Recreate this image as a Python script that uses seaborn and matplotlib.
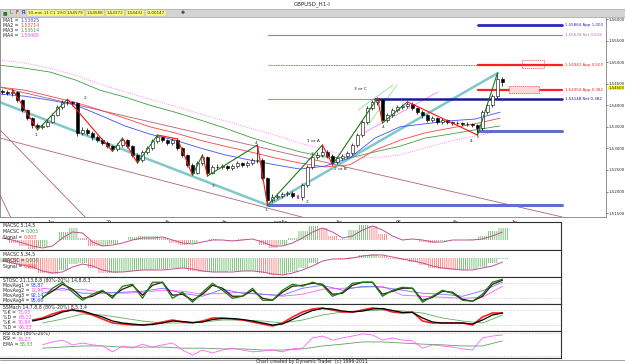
import numpy as np
import matplotlib
matplotlib.use("Agg")
import matplotlib.pyplot as plt
from matplotlib.patches import Rectangle
from matplotlib.text import Annotation
import seaborn as sns

W, H = 625, 364

# ---- price bars (2 hour steps) ----
first_open = 1.5432
closes = [1.5431, 1.5428, 1.5431, 1.5412, 1.5389, 1.5370, 1.5354, 1.5350, 1.5352, 1.5361,
          1.5377, 1.5396, 1.5407, 1.5407, 1.5405, 1.5336, 1.5343, 1.5336, 1.5326, 1.5319,
          1.5312, 1.5305, 1.5298, 1.5308, 1.5319, 1.5305, 1.5285, 1.5273, 1.5292, 1.5301,
          1.5317, 1.5326, 1.5319, 1.5312, 1.5319, 1.5301, 1.5285, 1.5262, 1.5243, 1.5266,
          1.5280, 1.5243, 1.5257, 1.5257, 1.5259, 1.5255, 1.5259, 1.5266, 1.5262, 1.5266,
          1.5273, 1.5273, 1.5231, 1.5180, 1.5187, 1.5190, 1.5194, 1.5197, 1.5190, 1.5187,
          1.5215, 1.5257, 1.5280, 1.5285, 1.5292, 1.5282, 1.5269, 1.5278, 1.5282, 1.5289,
          1.5308, 1.5331, 1.5361, 1.5394, 1.5407, 1.5412, 1.5366, 1.5377, 1.5389, 1.5396,
          1.5398, 1.5403, 1.5394, 1.5384, 1.5377, 1.5366, 1.5370, 1.5361, 1.5366, 1.5361,
          1.5359, 1.5359, 1.5357, 1.5357, 1.5354, 1.5347, 1.5384, 1.5400, 1.5421, 1.5462,
          1.5455]
highs = [1.5437, 1.5436, 1.5437, 1.5434, 1.5415, 1.5392, 1.5373, 1.5358, 1.5357, 1.5365,
         1.5381, 1.5400, 1.5412, 1.5414, 1.5411, 1.5408, 1.5350, 1.5347, 1.5340, 1.5330,
         1.5323, 1.5316, 1.5309, 1.5313, 1.5324, 1.5322, 1.5308, 1.5289, 1.5296, 1.5306,
         1.5321, 1.5331, 1.5329, 1.5322, 1.5323, 1.5322, 1.5304, 1.5288, 1.5266, 1.5270,
         1.5285, 1.5283, 1.5262, 1.5263, 1.5264, 1.5262, 1.5263, 1.5270, 1.5269, 1.5271,
         1.5278, 1.5308, 1.5277, 1.5234, 1.5194, 1.5196, 1.5199, 1.5202, 1.5201, 1.5194,
         1.5219, 1.5262, 1.5285, 1.5292, 1.5308, 1.5297, 1.5286, 1.5283, 1.5287, 1.5294,
         1.5313, 1.5336, 1.5366, 1.5399, 1.5412, 1.5417, 1.5415, 1.5382, 1.5393, 1.5400,
         1.5403, 1.5408, 1.5407, 1.5397, 1.5388, 1.5380, 1.5376, 1.5373, 1.5371, 1.5369,
         1.5364, 1.5363, 1.5362, 1.5361, 1.5360, 1.5357, 1.5389, 1.5406, 1.5427, 1.5475,
         1.5466]
lows = [1.5426, 1.5424, 1.5422, 1.5408, 1.5385, 1.5365, 1.5348, 1.5343, 1.5345, 1.5349,
        1.5358, 1.5374, 1.5392, 1.5401, 1.5398, 1.5328, 1.5331, 1.5330, 1.5320, 1.5314,
        1.5307, 1.5300, 1.5293, 1.5294, 1.5304, 1.5300, 1.5279, 1.5266, 1.5269, 1.5288,
        1.5297, 1.5313, 1.5314, 1.5307, 1.5308, 1.5296, 1.5280, 1.5257, 1.5238, 1.5240,
        1.5262, 1.5236, 1.5240, 1.5252, 1.5253, 1.5250, 1.5251, 1.5255, 1.5257, 1.5258,
        1.5262, 1.5266, 1.5226, 1.5168, 1.5175, 1.5182, 1.5186, 1.5189, 1.5186, 1.5182,
        1.5180, 1.5211, 1.5252, 1.5275, 1.5281, 1.5277, 1.5262, 1.5264, 1.5273, 1.5278,
        1.5285, 1.5304, 1.5327, 1.5357, 1.5389, 1.5401, 1.5359, 1.5361, 1.5373, 1.5385,
        1.5391, 1.5394, 1.5389, 1.5379, 1.5371, 1.5361, 1.5362, 1.5356, 1.5357, 1.5356,
        1.5354, 1.5355, 1.5353, 1.5352, 1.5349, 1.5331, 1.5343, 1.5380, 1.5396, 1.5417,
        1.5445]
marked_bar = 59
last_price_label = "1,54603"
last_price_pos = 1.5440

# ---- moving averages, read every 5 bars ----
ma1 = [1.5426, 1.5421, 1.5412, 1.5401, 1.5377, 1.5352, 1.5333, 1.5319, 1.5301, 1.5285, 1.5273,
       1.5262, 1.5252, 1.5259, 1.5278, 1.5324, 1.5350, 1.5357, 1.5364, 1.5368, 1.5384]
ma2 = [1.5442, 1.5435, 1.5421, 1.5407, 1.5389, 1.5370, 1.5350, 1.5336, 1.5319, 1.5305, 1.5292,
       1.5278, 1.5266, 1.5257, 1.5262, 1.5296, 1.5319, 1.5336, 1.5347, 1.5357, 1.5370]
ma3 = [1.5493, 1.5486, 1.5477, 1.5459, 1.5435, 1.5419, 1.5400, 1.5384, 1.5366, 1.5347, 1.5326,
       1.5308, 1.5292, 1.5280, 1.5278, 1.5292, 1.5305, 1.5324, 1.5333, 1.5343, 1.5352]
ma4 = [1.5505, 1.5498, 1.5486, 1.5470, 1.5449, 1.5431, 1.5414, 1.5398, 1.5380, 1.5364, 1.5347,
       1.5331, 1.5312, 1.5296, 1.5282, 1.5278, 1.5285, 1.5301, 1.5317, 1.5329, 1.5340]
ma_labels = ["MA1 =", "MA2 =", "MA3 =", "MA4 ="]
ma_values = ["1,53825", "1,53714", "1,53514", "1,53405"]
ma_colors = ["#4050ff", "#ff4040", "#40a040", "#ff40ff"]

# ---- swing points (bar, price) ----
swings = [(2, 1.5437), (7, 1.5343), (13, 1.5414), (22, 1.5293), (24, 1.5324), (27, 1.5266),
          (31, 1.5331), (35, 1.5322), (38, 1.5238), (40, 1.5285), (41, 1.5236), (51, 1.5308),
          (53, 1.5168), (64, 1.5308), (66, 1.5262), (75, 1.5417), (76, 1.5359), (81, 1.5408),
          (95, 1.5331), (99, 1.5475)]

# ---- drawn trend lines (bar, price) -> (bar, price) ----
channel_lines = [((-0.5, 1.5442), (111.9, 1.5141)), ((-0.5, 1.5324), (62.1, 1.5134)),
                 ((-0.5, 1.5343), (17.1, 1.5134)), ((-0.5, 1.5192), (1.9, 1.5134))]
teal_lines = [((-0.5, 1.5407), (53.1, 1.5168)), ((53.1, 1.5168), (99.1, 1.5475))]
green_lines = [((71.1, 1.5389), (78.1, 1.5447)), ((73.1, 1.5354), (78.9, 1.5447))]
pink_lines = [((71.5, 1.5331), (87.1, 1.5431))]

# ---- Fibonacci levels: price, start bar, colour, width, label ----
fib_levels = [(1.55864, 95.1, "#2828b8", 2.0, "1,55864 App 1,000"),
              (1.55634, 53.1, "#b070b8", 0.8, "1,55634 Ret 0,618"),
              (1.54942, 95.1, "#ff2020", 1.6, "1,54942 App 0,500"),
              (1.54354, 95.1, "#ff2020", 1.6, "1,54354 App 0,382"),
              (1.54148, 74.5, "#1a1a90", 1.8, "1,54148 Ret 0,382")]
support_levels = [(1.5340, 95.1), (1.5168, 53.1)]
boxes = [(103.9, 1.5487, 4.4, 0.0018, "none"), (101.3, 1.5428, 6.0, 0.0016, "#ffd8d8")]

wave_labels = [(6.7, 1.5331, "1"), (16.5, 1.5416, "2"), (42.1, 1.5213, "3"), (50.7, 1.5312, "4"),
               (52.7, 1.5158, "1"), (60.9, 1.5176, "2"), (61.9, 1.5287, "3"), (62.1, 1.5318, "1 or A"),
               (67.5, 1.5252, "2 or B"), (71.5, 1.5437, "3 or C"), (76.1, 1.5350, "4"),
               (93.7, 1.5318, "4"), (95.1, 1.5326, "c")]

day_ticks = [9.7, 21.3, 32.9, 44.5, 55.7, 67.3, 79.3, 90.7, 102.3]
day_labels = ["1w", "20", "3s", "4p", "sun5p", "3w", "9S", "8c", "1p"]
price_ticks = [1.515, 1.520, 1.525, 1.530, 1.535, 1.540, 1.545, 1.550, 1.555, 1.560]

# ---- indicator panels, every 2 bars ----
macd1 = [0, -0.00075, -0.0015, -0.00225, -0.00175, 0, 0.002, 0.003, 0.0005, -0.0015,
         -0.0015, -0.001, 0, 0.00075, 0.001, 0.001, 0.0005, -0.00075, -0.00125, -0.00075,
         0, 0.00025, 0, -0.00025, 0.00025, 0, -0.00125, -0.002, -0.00125, 0.0005,
         0.00225, 0.0035, 0.003, 0.001, 0.00025, 0.0025, 0.00375, 0.0035, 0.0015, 0,
         0, 0, -0.0005, -0.00075, -0.00025, 0, 0, 0.00025, 0.001, 0.00225, 0.003]
signal1 = [0.0005, 0, -0.00075, -0.0015, -0.002, -0.0015, 0.0005, 0.002, 0.00175, -0.0005,
           -0.0015, -0.00125, -0.00075, 0, 0.0005, 0.0005, 0.00075, 0, -0.00075, -0.001,
           -0.0005, 0, 0, -0.00025, 0, 0.00025, -0.0005, -0.0015, -0.0015, -0.00075,
           0.0005, 0.002, 0.003, 0.002, 0.0005, 0.001, 0.0025, 0.0035, 0.0025, 0.001,
           0, 0.00025, 0, -0.0005, -0.0005, 0, 0, 0, 0.00025, 0.001, 0.002]
macd2 = [-0.0016, -0.0024, -0.0032, -0.0044, -0.006, -0.0064, -0.0048, -0.0024, -0.002, -0.004,
         -0.006, -0.006, -0.0056, -0.0052, -0.0048, -0.0048, -0.0044, -0.004, -0.004, -0.0052,
         -0.0056, -0.0056, -0.0056, -0.0052, -0.0052, -0.0052, -0.006, -0.0068, -0.0068, -0.0056,
         -0.004, -0.002, 0, 0, -0.0004, 0.0004, 0.0012, 0.0016, 0.0008, -0.0004,
         -0.0008, -0.0016, -0.0028, -0.004, -0.0044, -0.0048, -0.0048, -0.0044, -0.0036, -0.002,
         -0.0004]
signal2 = [-0.0012, -0.002, -0.0028, -0.0036, -0.0052, -0.006, -0.0056, -0.0036, -0.0024, -0.0032,
           -0.0048, -0.0056, -0.0056, -0.0052, -0.0048, -0.0048, -0.0048, -0.0044, -0.004, -0.0044,
           -0.0052, -0.0056, -0.0056, -0.0056, -0.0052, -0.0052, -0.0056, -0.0064, -0.0068, -0.006,
           -0.0048, -0.0032, -0.0012, -0.0004, -0.0004, 0, 0.0008, 0.0012, 0.0012, 0.0004,
           -0.0004, -0.0012, -0.002, -0.0032, -0.004, -0.0044, -0.0048, -0.0048, -0.004, -0.0032,
           -0.0016]

# from bar 8, every 2 bars
sto_fast = [20, 60, 84, 44, 12, 36, 52, 20, 68, 76, 20, 84, 84, 20, 44, 4, 44, 80, 52, 20,
            28, 60, 12, 12, 52, 76, 68, 84, 72, 28, 44, 80, 84, 84, 28, 52, 64, 60, 4, 28,
            52, 40, 12, 8, 36, 84, 96]
sto_black = [24, 48, 76, 56, 20, 28, 48, 28, 56, 72, 32, 72, 84, 32, 36, 12, 36, 72, 60, 28,
             28, 52, 20, 12, 44, 68, 72, 80, 76, 36, 40, 72, 84, 84, 36, 48, 60, 60, 12, 24,
             48, 44, 16, 8, 28, 76, 92]
# from bar 8, every 4 bars
sto_blue = [40, 60, 40, 40, 44, 48, 60, 40, 28, 56, 40, 36, 32, 60, 72, 52, 68, 64, 52, 40,
            36, 28, 50, 84]
sto_pink = [60, 52, 56, 44, 40, 44, 52, 48, 36, 40, 44, 36, 28, 36, 56, 60, 64, 68, 32, 28,
            24, 20, 24, 68]
# from bar 6, every 2 bars
ss_red = [40, 48, 64, 76, 80, 72, 60, 44, 28, 24, 20, 20, 24, 32, 40, 32, 28, 36, 48, 48,
          44, 40, 32, 24, 16, 28, 52, 72, 84, 88, 80, 72, 72, 80, 88, 84, 72, 68, 72, 36,
          28, 28, 28, 28, 20, 52, 68, 68]
ss_black = [36, 44, 56, 72, 80, 76, 64, 52, 36, 28, 24, 20, 22, 28, 36, 34, 30, 32, 42, 46,
            46, 42, 36, 28, 20, 24, 42, 62, 78, 86, 84, 76, 72, 76, 84, 86, 78, 70, 70, 48,
            32, 28, 28, 28, 24, 40, 60, 68]
# from bar 8, every 4 bars
ss_green = [28, 44, 64, 60, 48, 36, 28, 28, 32, 40, 40, 36, 28, 40, 60, 72, 76, 80, 76, 68,
            48, 36, 28, 60]
# from bar 8, every 2 bars
rsi = [49, 57, 62, 49, 54, 49, 46, 30, 46, 40, 51, 43, 49, 54, 35, 21, 35, 27, 35, 40,
       35, 30, 32, 35, 30, 38, 40, 68, 73, 62, 68, 73, 79, 76, 62, 68, 62, 60, 40, 49,
       46, 43, 38, 35, 68, 73, 76]
# from bar 8, every 4 bars
rsi_ema = [40, 43, 46, 46, 43, 43, 43, 40, 40, 38, 38, 35, 35, 38, 46, 51, 57, 57, 54, 51,
           49, 46, 46, 60]

panel_text = [
    (225.5, "MACSC 5,14,5", None, None),
    (231.5, "MACSC =", "0,003", "#40a040"),
    (237.5, "Signal =", "0,003", "#ff4040"),
    (254.5, "MACSC 5,34,5", None, None),
    (260.5, "MACSC =", "0,008", "#40a040"),
    (266.5, "Signal =", "0,004", "#ff4040"),
    (280.5, "STOSC 21,13,8,8 (80%-20%) 14,8,8,3", None, None),
    (285.5, "MovAvg1 =", "93,87", "#2040ff"),
    (290.5, "MovAvg2 =", "72,96", "#ff40ff"),
    (295.5, "MovAvg3 =", "92,14", "#2040ff"),
    (300.5, "MovAvg4 =", "95,66", "#2040ff"),
    (307.5, "SSMach 14,7,8,8 (80%-20%) 8,5,3,4", None, None),
    (312.5, "%K =", "73,03", "#ff40ff"),
    (317.5, "%D =", "68,12", "#ff40ff"),
    (322.5, "%K =", "70,94", "#ff40ff"),
    (327.5, "%D =", "66,03", "#ff40ff"),
    (333.5, "RSI 8,80 (80%-20%)", None, None),
    (339.0, "RSI =", "76,27", "#ff40ff"),
    (344.0, "EMA =", "58,33", "#40a040"),
]

sns.set_style("white")
plt.rcParams["font.family"] = ["DejaVu Sans"]
plt.rcParams["hatch.linewidth"] = 0.5

fig = plt.figure(figsize=(W / 100, H / 100), dpi=100)


def box(l, t, r, b):
    return fig.add_axes([l / W, 1 - b / H, (r - l) / W, (b - t) / H])


def ftext(x, y, s, **kw):
    kw.setdefault("fontsize", 3.4)
    kw.setdefault("va", "center")
    return fig.text(x / W, 1 - y / H, s, **kw)


def after(label, s, color, size=3.4):
    # value text placed right after its label
    ann = Annotation(s, xy=(1, 0.5), xycoords=label, xytext=(1.2, 0), textcoords="offset points",
                     va="center", ha="left", color=color, fontsize=size)
    fig.add_artist(ann)


# window chrome
fig.patches.append(Rectangle((0, 1 - 17 / H), 1, 8 / H, transform=fig.transFigure,
                             facecolor="#d4d4d4", edgecolor="#a0a0a0", lw=0.5))
ftext(312, 4.5, "GBPUSD_H1-I", ha="center", fontsize=4)
ftext(3, 13, "■", color="#208020", fontsize=3.5)
ftext(9, 13, "L", color="#806000", fontsize=3.8)
ftext(15, 13, "F", color="#a00000", fontsize=3.8)
ftext(21, 13, "R", color="#0000a0", fontsize=3.8)
toolbar = ["10-mei-11 C1 19:00", "1,54579", "1,54588", "1,54372", "1,54432", "-0,00147"]
tx = [28, 67, 87, 107, 127, 147]
for xp, s in zip(tx, toolbar):
    ftext(xp, 13, s, fontsize=3.0, bbox=dict(boxstyle="square,pad=0.15", fc="#ffff80", ec="#c0c0c0", lw=0.3))
ftext(181, 13, "✚", fontsize=3.5)

# ---- main price panel ----
ax = box(0, 18, 606, 217)
x = np.arange(len(closes))
c = np.array(closes)
o = np.array([first_open] + closes[:-1])
up = c >= o
ax.vlines(x, lows, highs, color="black", lw=0.5, zorder=3)
body = np.maximum(np.abs(c - o), 0.00005)
ax.bar(x[up], body[up], bottom=o[up], width=0.65, color="white", edgecolor="black", lw=0.4, zorder=4)
ax.bar(x[~up], body[~up], bottom=c[~up], width=0.65, color="black", edgecolor="black", lw=0.4, zorder=4)
ax.bar([marked_bar], [0.0012], bottom=[lows[marked_bar]], width=0.65, color="#c000c0", zorder=5)

ma_x = np.arange(-0.5, 101, 5)
for vals, col, ls in [(ma4, "#ff60ff", ":"), (ma3, "#40a040", "-"), (ma2, "#ff4040", "-"), (ma1, "#4050ff", "-")]:
    sns.lineplot(x=ma_x, y=vals, ax=ax, color=col, lw=0.6, linestyle=ls, zorder=2)

for (x0, y0), (x1, y1) in channel_lines:
    ax.plot([x0, x1], [y0, y1], color="#b06080", lw=0.6, zorder=1)
for (x0, y0), (x1, y1) in teal_lines:
    ax.plot([x0, x1], [y0, y1], color="#80c8c8", lw=1.8, zorder=1)
for (x0, y0), (x1, y1) in green_lines:
    ax.plot([x0, x1], [y0, y1], color="#90e090", lw=0.6, zorder=1)
for (x0, y0), (x1, y1) in pink_lines:
    ax.plot([x0, x1], [y0, y1], color="#ff80ff", lw=0.6, zorder=1)

for (x0, y0), (x1, y1) in zip(swings[:-1], swings[1:]):
    col = "#1a7a1a" if y1 > y0 else "#ff1010"
    ax.plot([x0, x1], [y0, y1], color=col, lw=0.8, zorder=6)

line_end = 111.9
ax.plot([53.1, 95.1], [1.54942, 1.54942], color="#ff4040", lw=0.6, linestyle=(0, (2, 1)), zorder=1)
ax.plot([53.1, 74.5], [1.54148, 1.54148], color="#c080c0", lw=0.8, zorder=1)
for price, start, col, lw, label in fib_levels:
    ax.plot([start, line_end], [price, price], color=col, lw=lw, zorder=2)
    ax.text(line_end + 0.6, price, label, color=col, fontsize=2.9, va="center")
for price, start in support_levels:
    ax.plot([start, line_end], [price, price], color="#6070d0", lw=2.2, zorder=2)
for bx, by, bw, bh, fc in boxes:
    ax.add_patch(Rectangle((bx, by), bw, bh, facecolor=fc, edgecolor="#ff4040",
                           lw=0.5, linestyle=(0, (2, 1)), zorder=2))
for wx, wy, s in wave_labels:
    ax.text(wx, wy, s, fontsize=3.2, ha="center", va="center", zorder=7)

ax.set_xlim(-0.5, 120.7)
ax.set_ylim(1.51409, 1.56024)
ax.set_xticks(day_ticks)
ax.set_xticklabels(day_labels, fontsize=3.4)
ax.yaxis.tick_right()
ax.set_yticks(price_ticks)
ax.set_yticklabels([f"{p:.5f}".replace(".", ",") for p in price_ticks], fontsize=2.9)
ax.tick_params(axis="both", length=1.5, width=0.4, pad=0.6)
ax.set_xlabel("")
ax.set_ylabel("")
ax.spines["top"].set_visible(False)
for side in ["left", "right", "bottom"]:
    ax.spines[side].set_color("#808080")
    ax.spines[side].set_linewidth(0.6)
ax.annotate(last_price_label, xy=(1, last_price_pos), xycoords=("axes fraction", "data"),
            xytext=(1.5, 0), textcoords="offset points", fontsize=2.8, va="center",
            bbox=dict(boxstyle="square,pad=0.1", fc="#ffff00", ec="none"), annotation_clip=False)

for i, (lab, val, col) in enumerate(zip(ma_labels, ma_values, ma_colors)):
    t = ftext(3, 20.5 + 5 * i, lab, fontsize=3.3)
    after(t, val, col, 3.3)

# ---- sub panels ----
xs2 = np.arange(0, 101, 2)
xs8 = np.arange(8, 101, 2)
xs8c = np.arange(8, 101, 4)
xs6 = np.arange(6, 101, 2)


def panel(t, b, ylim):
    a = box(0, t, 561, b)
    a.set_xlim(-0.5, 111.7)
    a.set_ylim(*ylim)
    a.set_xticks([])
    a.set_yticks([])
    a.spines["left"].set_visible(False)
    for s in ["top", "bottom", "right"]:
        a.spines[s].set_color("#303030")
        a.spines[s].set_linewidth(0.8)
    return a


def hist(a, vals, sig):
    v = np.array(vals)
    rising = np.diff(np.r_[v[0], v]) >= 0
    cols = np.where(rising, "#50b050", "#ff6060")
    a.bar(xs2, v, width=2, facecolor="none", edgecolor=cols, hatch="|" * 8, lw=0)
    sns.lineplot(x=xs2, y=sig, ax=a, color="#c05090", lw=0.7)


a1 = panel(222, 250, (-0.0025, 0.0045))
hist(a1, macd1, signal1)
a2 = panel(250, 277, (-0.0076, 0.0032))
hist(a2, macd2, signal2)

a3 = panel(277, 304, (-3, 105))
for lvl in (80, 20):
    a3.axhline(lvl, color="#a0a0a0", lw=0.4, linestyle=":")
sns.lineplot(x=xs8c, y=sto_pink, ax=a3, color="#ff60ff", lw=0.6)
sns.lineplot(x=xs8c, y=sto_blue, ax=a3, color="#7070ff", lw=0.6)
sns.lineplot(x=xs8, y=sto_black, ax=a3, color="#401010", lw=0.9)
sns.lineplot(x=xs8, y=sto_fast, ax=a3, color="#108010", lw=0.9)

a4 = panel(304, 331, (-4, 104))
for lvl in (80, 20):
    a4.axhline(lvl, color="#a0a0a0", lw=0.4, linestyle=":")
sns.lineplot(x=xs8c, y=ss_green, ax=a4, color="#60b060", lw=0.6)
sns.lineplot(x=xs6, y=ss_red, ax=a4, color="#ff2020", lw=1.2)
sns.lineplot(x=xs6, y=ss_black, ax=a4, color="#000000", lw=0.9)

a5 = panel(331, 358, (13.2, 86.8))
for lvl in (80, 20):
    a5.axhline(lvl, color="#a0a0a0", lw=0.4, linestyle=":")
sns.lineplot(x=xs8c, y=rsi_ema, ax=a5, color="#60a060", lw=0.6)
sns.lineplot(x=xs8, y=rsi, ax=a5, color="#ff60ff", lw=0.6)

for y, lab, val, col in panel_text:
    t = ftext(3, y, lab, fontsize=3.3)
    if val:
        after(t, val, col, 3.3)

fig.add_artist(plt.Line2D([0, 1], [1 - 359.5 / H] * 2, transform=fig.transFigure, color="#909090", lw=0.6))
ftext(312, 361.5, "Chart created by Dynamic Trader  (c) 1996-2011", ha="center", fontsize=3.3)

fig.savefig("out.png", dpi=100)
